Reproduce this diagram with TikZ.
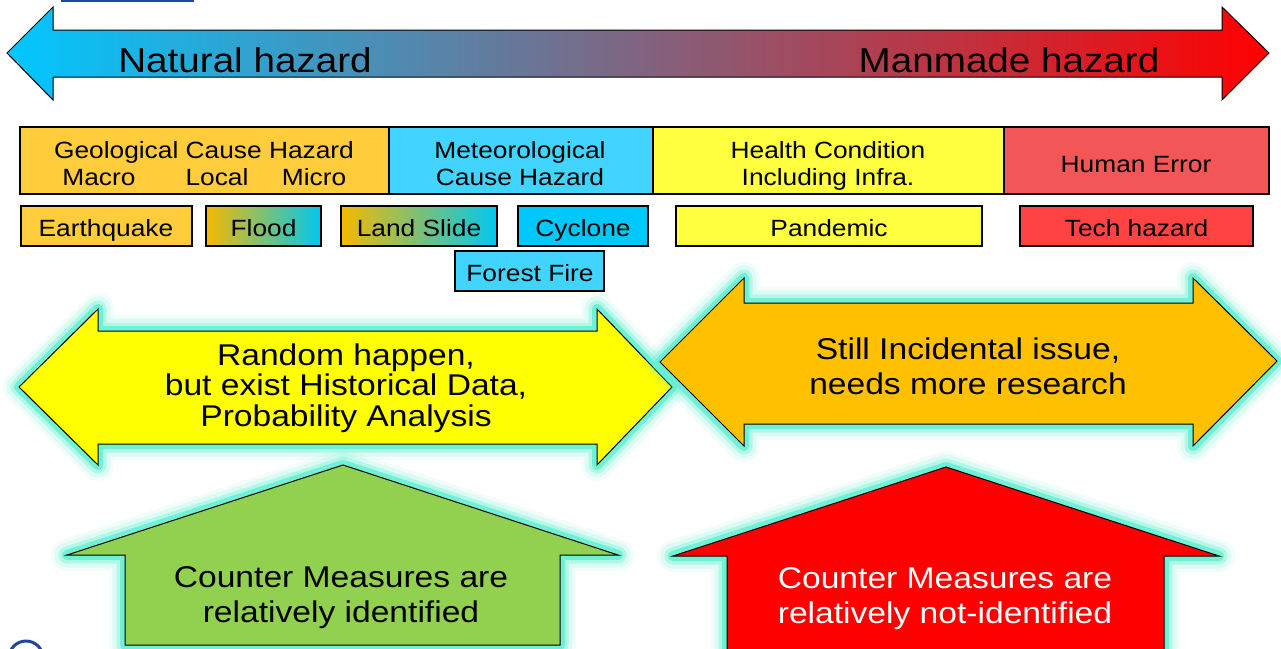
\documentclass[tikz,border=0pt]{standalone}
\usepackage{fontspec}
\setmainfont[FakeStretch=1.12]{Liberation Sans}
\definecolor{arrL}{RGB}{0,200,255}
\definecolor{arrM}{RGB}{128,100,128}
\definecolor{arrR}{RGB}{255,0,0}
\definecolor{geoC}{RGB}{255,204,60}
\definecolor{metC}{RGB}{64,212,255}
\definecolor{cycC}{RGB}{0,200,250}
\definecolor{healC}{RGB}{255,255,64}
\definecolor{humC}{RGB}{242,86,86}
\definecolor{techC}{RGB}{255,66,66}
\definecolor{gradL}{RGB}{245,185,0}
\definecolor{gradR}{RGB}{0,200,240}
\definecolor{yelC}{RGB}{255,255,0}
\definecolor{oraC}{RGB}{255,192,0}
\definecolor{greC}{RGB}{146,208,80}
\definecolor{redC}{RGB}{255,0,0}
\definecolor{glowC}{RGB}{100,240,210}
\definecolor{topblue}{RGB}{30,70,160}
\tikzset{
  boxstyle/.style={draw=black, line width=1.1pt, inner sep=0pt},
  boxtxt/.style={anchor=base, inner sep=0pt, font=\fontsize{23.5}{27}\selectfont},
  bigtxt/.style={anchor=base, inner sep=0pt, align=center, font=\fontsize{30}{35}\selectfont},
  headtxt/.style={anchor=base, inner sep=0pt, font=\fontsize{34.5}{40}\selectfont},
  shapeline/.style={draw=black, line width=1pt, line join=miter},
  glowA/.style={draw=glowC, line width=32pt, opacity=0.08, line join=round},
  glowB/.style={draw=glowC, line width=25pt, opacity=0.15, line join=round},
  glowD/.style={draw=glowC, line width=17pt, opacity=0.35, line join=round},
  glowE/.style={draw=glowC, line width=10pt, opacity=0.85, line join=round},
  yarrow/.style={insert path={(19,387) -- (98,309) -- (98,331) -- (597,331) -- (597,309) -- (672,387) -- (597,465) -- (597,444) -- (98,444) -- (98,465) -- cycle}},
  oarrow/.style={insert path={(660,362) -- (744,278) -- (744,303) -- (1193,303) -- (1193,278) -- (1277,361) -- (1193,446) -- (1193,424) -- (744,424) -- (744,446) -- cycle}},
  garrow/.style={insert path={(343,465) -- (618,555) -- (560,555) -- (560,645) -- (125,645) -- (125,555) -- (67,555) -- cycle}},
  rarrow/.style={insert path={(946,467) -- (1219,556) -- (1164,556) -- (1164,670) -- (727,670) -- (727,556) -- (673,556) -- cycle}}
}
\begin{document}
\begin{tikzpicture}[x=1pt,y=-1pt]
\path[use as bounding box] (0,0) rectangle (1281,648);
\clip (0,0) rectangle (1281,648);
\fill[white] (0,0) rectangle (1281,648);

% cropped fragments at the edges
\fill[topblue] (61,0) rectangle (194,1.6);
\draw[topblue, line width=3pt] (26,658) circle (17);

% top double arrow
\draw[shapeline, left color=arrL, right color=arrR, middle color=arrM]
  (7,53) -- (53,7) -- (53,30) -- (1222,30) -- (1222,7) -- (1269,53) -- (1222,100) -- (1222,77) -- (53,77) -- (53,100) -- cycle;
\node[headtxt] (nat) at (245,72) {Natural hazard};
\node[headtxt] (man) at (1009,72) {Manmade hazard};

% first row of boxes
\node[boxstyle, fill=geoC, minimum width=369pt, minimum height=67pt] (geo) at (204.5,160.5) {};
\node[boxstyle, fill=metC, minimum width=265pt, minimum height=67pt] (met) at (521.5,160.5) {};
\node[boxstyle, fill=healC, minimum width=351pt, minimum height=67pt] (heal) at (828.5,160.5) {};
\node[boxstyle, fill=humC, minimum width=265pt, minimum height=67pt] (hum) at (1136.5,160.5) {};
\node[boxtxt] (geoA) at (204,158) {Geological Cause Hazard};
\node[boxtxt] (geoM1) at (99,185) {Macro};
\node[boxtxt] (geoM2) at (217,185) {Local};
\node[boxtxt] (geoM3) at (314,185) {Micro};
\node[boxtxt] (metA) at (520,158) {Meteorological};
\node[boxtxt] (metB) at (520,185) {Cause Hazard};
\node[boxtxt] (healA) at (828,158) {Health Condition};
\node[boxtxt] (healB) at (828,185) {Including Infra.};
\node[boxtxt] (humA) at (1136,172) {Human Error};

% second row of boxes
\node[boxstyle, fill=geoC, minimum width=171pt, minimum height=40pt] (eq) at (106.5,226) {};
\node[boxstyle, left color=gradL, right color=gradR, minimum width=115pt, minimum height=40pt] (fl) at (263.5,226) {};
\node[boxstyle, left color=gradL, right color=gradR, minimum width=156pt, minimum height=40pt] (ls) at (419,226) {};
\node[boxstyle, fill=cycC, minimum width=130pt, minimum height=40pt] (cy) at (583,226) {};
\node[boxstyle, fill=healC, minimum width=306pt, minimum height=40pt] (pa) at (829,226) {};
\node[boxstyle, fill=techC, minimum width=233pt, minimum height=40pt] (th) at (1136.5,226) {};
\node[boxstyle, fill=metC, minimum width=149pt, minimum height=40pt] (ff) at (529.5,271) {};
\node[boxtxt] (eqT) at (106,236) {Earthquake};
\node[boxtxt] (flT) at (263.5,236) {Flood};
\node[boxtxt] (lsT) at (419,236) {Land Slide};
\node[boxtxt] (cyT) at (583,236) {Cyclone};
\node[boxtxt] (paT) at (829,236) {Pandemic};
\node[boxtxt] (thT) at (1136.5,236) {Tech hazard};
\node[boxtxt] (ffT) at (530,281) {Forest Fire};

% yellow double arrow
\path[glowA, yarrow]; \path[glowB, yarrow]; \path[glowD, yarrow]; \path[glowE, yarrow];
\path[shapeline, fill=yelC, yarrow];
\node[bigtxt, font=\fontsize{30}{30.5}\selectfont] (rnd) at (346,426) {Random happen,\\but exist Historical Data,\\Probability Analysis};

% orange double arrow
\path[glowA, oarrow]; \path[glowB, oarrow]; \path[glowD, oarrow]; \path[glowE, oarrow];
\path[shapeline, fill=oraC, oarrow];
\node[bigtxt] (inc) at (968,394) {Still Incidental issue,\\needs more research};

% green up arrow
\path[glowA, garrow]; \path[glowB, garrow]; \path[glowD, garrow]; \path[glowE, garrow];
\path[shapeline, fill=greC, garrow];
\node[bigtxt] (cmA) at (341,622) {Counter Measures are\\relatively identified};

% red up arrow
\path[glowA, rarrow]; \path[glowB, rarrow]; \path[glowD, rarrow]; \path[glowE, rarrow];
\path[shapeline, fill=redC, rarrow];
\node[bigtxt, text=white] (cmB) at (945,623) {Counter Measures are\\relatively not-identified};
\end{tikzpicture}
\end{document}
